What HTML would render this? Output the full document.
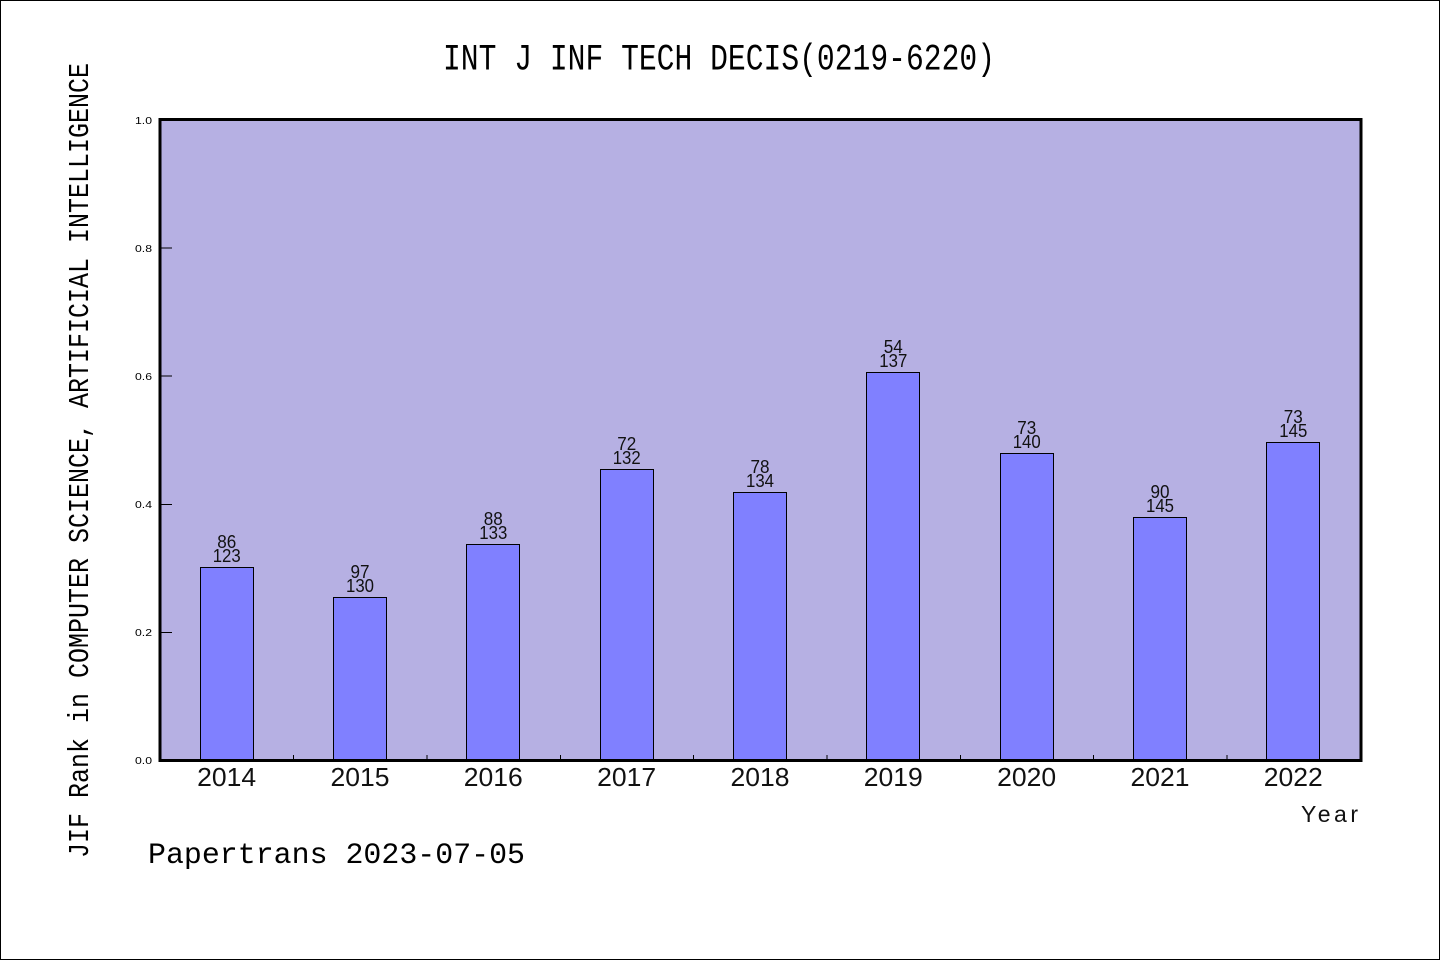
<!DOCTYPE html>
<html><head><meta charset="utf-8"><style>
html,body{margin:0;padding:0;background:#fff;}
svg{display:block;}
.m{font-family:"Liberation Mono","WenQuanYi Zen Hei",monospace;}
.s{font-family:"Liberation Sans","DejaVu Sans",sans-serif;}
</style></head><body>
<svg width="1440" height="960" viewBox="0 0 1440 960" xmlns="http://www.w3.org/2000/svg">
<rect x="0.5" y="0.5" width="1439" height="959" fill="#fff" stroke="#000" stroke-width="1"/>
<text class="m" x="443" y="69.5" font-size="37" textLength="552" lengthAdjust="spacingAndGlyphs">INT J INF TECH DECIS(0219-6220)</text>
<rect x="160" y="119.5" width="1201" height="641" fill="#b6b0e3"/>
<g fill="#8080ff" stroke="#000" stroke-width="1">
<rect x="200.5" y="567.5" width="53" height="193"/>
<rect x="333.5" y="597.5" width="53" height="163"/>
<rect x="466.5" y="544.5" width="53" height="216"/>
<rect x="600.5" y="469.5" width="53" height="291"/>
<rect x="733.5" y="492.5" width="53" height="268"/>
<rect x="866.5" y="372.5" width="53" height="388"/>
<rect x="1000.5" y="453.5" width="53" height="307"/>
<rect x="1133.5" y="517.5" width="53" height="243"/>
<rect x="1266.5" y="442.5" width="53" height="318"/>
</g>
<g class="s" font-size="18.5" text-anchor="middle" fill="#111">
<text x="226.7" y="548" textLength="19" lengthAdjust="spacingAndGlyphs">86</text><text x="226.7" y="562" textLength="28" lengthAdjust="spacingAndGlyphs">123</text>
<text x="360" y="578" textLength="19" lengthAdjust="spacingAndGlyphs">97</text><text x="360" y="592" textLength="28" lengthAdjust="spacingAndGlyphs">130</text>
<text x="493.3" y="525" textLength="19" lengthAdjust="spacingAndGlyphs">88</text><text x="493.3" y="539" textLength="28" lengthAdjust="spacingAndGlyphs">133</text>
<text x="626.7" y="450" textLength="19" lengthAdjust="spacingAndGlyphs">72</text><text x="626.7" y="464" textLength="28" lengthAdjust="spacingAndGlyphs">132</text>
<text x="760" y="473" textLength="19" lengthAdjust="spacingAndGlyphs">78</text><text x="760" y="487" textLength="28" lengthAdjust="spacingAndGlyphs">134</text>
<text x="893.3" y="353" textLength="19" lengthAdjust="spacingAndGlyphs">54</text><text x="893.3" y="367" textLength="28" lengthAdjust="spacingAndGlyphs">137</text>
<text x="1026.7" y="434" textLength="19" lengthAdjust="spacingAndGlyphs">73</text><text x="1026.7" y="448" textLength="28" lengthAdjust="spacingAndGlyphs">140</text>
<text x="1160" y="498" textLength="19" lengthAdjust="spacingAndGlyphs">90</text><text x="1160" y="512" textLength="28" lengthAdjust="spacingAndGlyphs">145</text>
<text x="1293.3" y="423" textLength="19" lengthAdjust="spacingAndGlyphs">73</text><text x="1293.3" y="437" textLength="28" lengthAdjust="spacingAndGlyphs">145</text>
</g>
<g stroke="#000" stroke-width="1">
<line x1="160" y1="248" x2="172" y2="248"/>
<line x1="160" y1="376" x2="172" y2="376"/>
<line x1="160" y1="504.5" x2="172" y2="504.5"/>
<line x1="160" y1="632.5" x2="172" y2="632.5"/>
<line x1="293.5" y1="755" x2="293.5" y2="760"/>
<line x1="427" y1="755" x2="427" y2="760"/>
<line x1="560.5" y1="755" x2="560.5" y2="760"/>
<line x1="693.5" y1="755" x2="693.5" y2="760"/>
<line x1="827" y1="755" x2="827" y2="760"/>
<line x1="960.5" y1="755" x2="960.5" y2="760"/>
<line x1="1093.5" y1="755" x2="1093.5" y2="760"/>
<line x1="1227" y1="755" x2="1227" y2="760"/>
</g>
<rect x="160" y="119.5" width="1201" height="641" fill="none" stroke="#000" stroke-width="3"/>
<g class="s" font-size="10" text-anchor="end" fill="#000">
<text x="152" y="124" textLength="17" lengthAdjust="spacingAndGlyphs">1.0</text>
<text x="152" y="252" textLength="17" lengthAdjust="spacingAndGlyphs">0.8</text>
<text x="152" y="380" textLength="17" lengthAdjust="spacingAndGlyphs">0.6</text>
<text x="152" y="508" textLength="17" lengthAdjust="spacingAndGlyphs">0.4</text>
<text x="152" y="636" textLength="17" lengthAdjust="spacingAndGlyphs">0.2</text>
<text x="152" y="764" textLength="17" lengthAdjust="spacingAndGlyphs">0.0</text>
</g>
<g class="s" font-size="26" text-anchor="middle" fill="#111">
<text x="226.7" y="786" textLength="59" lengthAdjust="spacingAndGlyphs">2014</text>
<text x="360" y="786" textLength="59" lengthAdjust="spacingAndGlyphs">2015</text>
<text x="493.3" y="786" textLength="59" lengthAdjust="spacingAndGlyphs">2016</text>
<text x="626.7" y="786" textLength="59" lengthAdjust="spacingAndGlyphs">2017</text>
<text x="760" y="786" textLength="59" lengthAdjust="spacingAndGlyphs">2018</text>
<text x="893.3" y="786" textLength="59" lengthAdjust="spacingAndGlyphs">2019</text>
<text x="1026.7" y="786" textLength="59" lengthAdjust="spacingAndGlyphs">2020</text>
<text x="1160" y="786" textLength="59" lengthAdjust="spacingAndGlyphs">2021</text>
<text x="1293.3" y="786" textLength="59" lengthAdjust="spacingAndGlyphs">2022</text>
</g>
<text class="s" x="1301" y="822" font-size="23" textLength="57" lengthAdjust="spacing" fill="#111">Year</text>
<text class="m" x="148" y="863" font-size="30" textLength="377" lengthAdjust="spacingAndGlyphs">Papertrans 2023-07-05</text>
<text class="m" transform="translate(88,858) rotate(-90)" x="0" y="0" font-size="29" textLength="795" lengthAdjust="spacingAndGlyphs">JIF Rank in COMPUTER SCIENCE, ARTIFICIAL INTELLIGENCE</text>
</svg>
</body></html>
